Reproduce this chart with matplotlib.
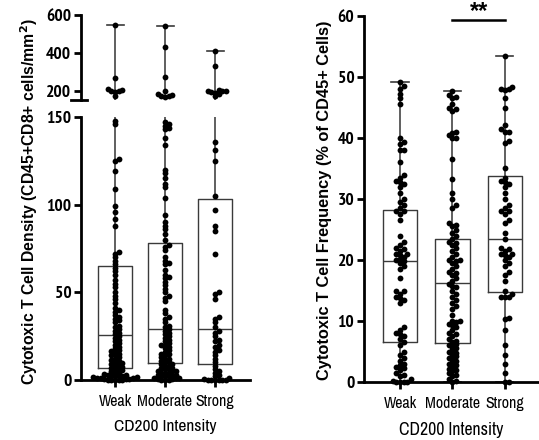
import matplotlib
matplotlib.use("Agg")
import matplotlib.pyplot as plt
import numpy as np
from matplotlib import font_manager

groups = ["Weak", "Moderate", "Strong"]

# CD8 density (cells/mm2), left panel
dens_weak = [545, 270, 212, 205, 200, 198, 195, 172,
             148, 146, 126, 125, 119, 109, 99, 96, 92, 88,
             73, 72, 70, 68, 66, 64, 62, 60, 57, 55, 53, 50, 48, 46, 44, 41, 40, 39,
             37, 36, 35, 34, 33, 31, 30, 29, 28, 27, 26, 25, 24, 23, 22, 21, 20, 19,
             18, 17, 16.5, 16, 15, 14.5, 14, 13, 12, 11.5, 11, 10, 9.5, 9, 8.5, 8,
             7.5, 7, 6.5, 6, 5.5, 5, 4.5, 4, 3.5, 3, 3, 2.5, 2.5, 2, 2, 1.5, 1.5,
             1, 1, 1, 0.5, 0.5, 0.5, 0, 0, 0, 0, 0]
dens_mod = [540, 430, 275, 200, 182, 178, 175, 172, 170,
            147, 146, 145, 144, 143, 138, 134, 120, 118, 115, 112, 110, 104, 94, 90, 88,
            86, 83, 80, 77, 76, 74, 70, 68, 67, 66, 63, 60, 59, 58, 56, 54, 52, 50,
            48, 47, 45, 40, 38, 36, 35, 33, 31, 30, 29, 28, 27, 26, 25, 24, 23, 22,
            21, 20, 20, 19, 18, 17, 16, 15, 15, 14, 13, 12, 12, 11, 10, 10, 9, 9, 8,
            8, 7, 7, 6, 6, 5, 5, 5, 4, 4, 4, 3, 3, 3, 2, 2, 2, 1, 1, 1, 0.5, 0.5,
            0, 0, 0]
dens_strong = [410, 330, 205, 202, 200, 198, 195, 190, 185, 172,
               136, 131, 125, 105, 97, 88, 85, 72, 50, 49, 46, 36, 35, 33, 30, 28,
               27, 25, 23, 22, 20, 19, 17, 16, 14, 12, 10, 8, 6, 5, 4, 3, 2, 1, 0.5,
               0, 0, 0, 0, 0, 0]

# CD8 frequency (% of CD45+), right panel
freq_weak = [49.2, 48.5, 48, 47.2, 46.5, 45.5, 40, 39.3, 39, 38, 38, 36, 34, 33.5,
             33, 32.8, 32.5, 32, 31, 30, 29.5, 29, 28.5, 28, 28, 27.5, 26.5, 24, 23,
             22.5, 22, 21.8, 21.5, 21, 21, 20.8, 20.5, 20.2, 20, 19.8, 19.5, 19, 18.5,
             17, 15, 15, 14.5, 14, 13.8, 13.5, 13, 9, 8.5, 8, 7.8, 7.5, 7, 6.5, 6, 5,
             4.5, 4, 3.5, 3, 2.8, 2.5, 2.3, 2, 1.5, 1.2, 1, 0.5, 0.2, 0, 0, 0, 0]
freq_mod = [47.7, 47, 46.8, 46.5, 45.5, 45, 44.8, 44.5, 41, 40.8, 40.5, 40, 40, 36.5,
            33.3, 31, 30, 29, 28.5, 26, 25.8, 25.5, 25, 24.5, 24, 23.5, 23, 22.8, 22.5,
            22, 21.5, 21, 20.5, 20, 20, 19.8, 19.5, 19, 18.5, 18, 17.8, 17.5, 17, 16.5,
            16, 15.8, 15.5, 15, 14.5, 14, 13.5, 13, 12.5, 12, 11, 10, 10, 9.8, 9.5, 9.3,
            9, 8.5, 8, 7.8, 7.5, 7, 6.8, 6.5, 6.2, 6, 5.8, 5.5, 5.2, 5, 4.8, 4.5, 4.2,
            4, 3.8, 3.5, 3.2, 3, 2.8, 2.5, 2.2, 2, 1.8, 1.5, 1.2, 1, 0.5, 0.2, 0]
freq_strong = [53.4, 48.3, 48, 48, 47.8, 46.5, 45, 42.2, 41.5, 41, 41, 39.5, 39.2, 35,
               33.5, 33, 32.8, 32.5, 32, 31, 30, 29, 28.5, 28, 28, 27.5, 26.5, 26, 24.5,
               23.5, 22, 21.8, 21.5, 21, 21, 20.8, 20.5, 20, 19.5, 19, 18, 17.5, 16.5,
               15, 14.5, 14, 14, 14, 10.5, 10.3, 8.5, 6, 4.5, 3, 1.5, 0, 0]

# box summaries: q1, median, q3, min, max
dens_q1 = [7, 9.6, 9]
dens_med = [25.6, 29, 29]
dens_q3 = [65, 78, 103]
dens_min = [0, 0, 0]
dens_max = [545, 540, 410]

freq_q1 = [6.6, 6.4, 14.8]
freq_med = [19.9, 16.2, 23.4]
freq_q3 = [28.2, 23.5, 33.7]
freq_min = [0, 0, 0]
freq_max = [49.2, 47.7, 53.4]

sig_label = "**"

plt.rcParams["font.family"] = ["Liberation Sans", "DejaVu Sans"]


def find_face(bold):
    # condensed face for the Arial Narrow look of the ticks
    for key in ("narrow", "condensed"):
        for f in font_manager.fontManager.ttflist:
            fn = f.fname.lower()
            if key in fn and "italic" not in fn and "oblique" not in fn \
                    and ("bold" in fn) == bold:
                return f.fname
    return None


reg_file = find_face(False)
bold_file = find_face(True) or reg_file


def fp(size, bold=False):
    f = bold_file if bold else reg_file
    if f:
        return font_manager.FontProperties(fname=f, size=size)
    return font_manager.FontProperties(family="Liberation Sans", size=size,
                                       weight="bold" if bold else "normal")


W, H = 539, 440
fig = plt.figure(figsize=(W / 100, H / 100), dpi=100)


def fit(txt, target_w):
    # scale font so the text spans roughly the width seen in the picture
    w = txt.get_window_extent(fig.canvas.get_renderer()).width
    if w > 0:
        txt.set_fontsize(txt.get_fontsize() * target_w / w)


def px_axes(l, t, r, b):
    return fig.add_axes([l / W, 1 - b / H, (r - l) / W, (b - t) / H])


def make_stats(q1, med, q3, lo, hi):
    return [dict(q1=a, med=m, q3=c, whislo=d, whishi=e, fliers=[])
            for a, m, c, d, e in zip(q1, med, q3, lo, hi)]


def draw_boxes(ax, stats, width):
    ax.bxp(stats, positions=range(3), widths=width, capwidths=width * 0.5,
           showfliers=False,
           boxprops=dict(color="#3a3a3a", linewidth=1.0),
           medianprops=dict(color="#3a3a3a", linewidth=1.0),
           whiskerprops=dict(color="#444444", linewidth=1.2),
           capprops=dict(color="#3a3a3a", linewidth=1.2))


def swarm(ax, xc, vals, d=3.6):
    # simple beeswarm in pixel space
    vals = np.asarray(vals, float)
    pts = ax.transData.transform(np.column_stack([np.full(len(vals), xc), vals]))
    order = np.argsort(vals)
    placed = []
    xs = np.zeros(len(vals))
    for i in order:
        px, py = pts[i]
        k = 0
        while True:
            off = ((k + 1) // 2) * d * (1 if k % 2 else -1) if k else 0.0
            cx = px + off
            if all((cx - qx) ** 2 + (py - qy) ** 2 >= (d * 0.95) ** 2 for qx, qy in placed):
                break
            k += 1
        placed.append((cx, py))
        xs[i] = cx
    back = ax.transData.inverted().transform(np.column_stack([xs, pts[:, 1]]))
    ax.plot(back[:, 0], vals, "o", color="black", ms=4.2, mew=0, clip_on=False, zorder=5)


def style(ax):
    for s in ["top", "right"]:
        ax.spines[s].set_visible(False)
    for s in ["left", "bottom"]:
        ax.spines[s].set_linewidth(2)
    ax.tick_params(width=2, length=5, pad=2)
    ax.tick_params(axis="x", pad=5)


def font_ticks(ax, num_size):
    for lab in ax.get_yticklabels():
        lab.set_fontproperties(fp(num_size, bold=True))
    for lab in ax.get_xticklabels():
        lab.set_fontproperties(fp(12))


# ---- left panel (broken axis) ----
ax_top = px_axes(81, 15, 250, 100)
ax_bot = px_axes(81, 117, 250, 380)
for ax in (ax_top, ax_bot):
    ax.set_xlim(-0.68, 2.7)
ax_top.set_ylim(153, 600)
ax_bot.set_ylim(0, 150)

dens_stats = make_stats(dens_q1, dens_med, dens_q3, dens_min, dens_max)
draw_boxes(ax_top, dens_stats, 0.68)
draw_boxes(ax_bot, dens_stats, 0.68)

for i, vals in enumerate([dens_weak, dens_mod, dens_strong]):
    v = np.asarray(vals, float)
    swarm(ax_top, i, v[v >= 153])
    swarm(ax_bot, i, v[v < 153])

style(ax_top)
style(ax_bot)
ax_top.spines["bottom"].set_visible(False)
ax_top.set_xticks([])
ax_top.set_yticks([200, 400, 600])
ax_bot.set_yticks([0, 50, 100, 150])
ax_bot.set_xticks(range(3))
ax_bot.set_xticklabels(groups)
font_ticks(ax_top, 12)
font_ticks(ax_bot, 12)
ax_top.plot([-10 / 169, 6 / 169], [0, 0], transform=ax_top.transAxes, color="black",
            lw=2, clip_on=False)
xl_left = ax_bot.set_xlabel("CD200 Intensity", fontproperties=fp(12), labelpad=7)

fig.text(29 / W, 1 - 202 / H, "Cytotoxic T Cell Density (CD45+CD8+ cells/mm$^\\mathbf{2}$)",
         rotation=90, ha="center", va="center", fontsize=11.3, fontweight="bold")

# ---- right panel ----
ax_r = px_axes(364, 16, 538, 382)
ax_r.set_xlim(-0.686, 2.63)
ax_r.set_ylim(0, 60)
draw_boxes(ax_r, make_stats(freq_q1, freq_med, freq_q3, freq_min, freq_max), 0.65)
for i, vals in enumerate([freq_weak, freq_mod, freq_strong]):
    swarm(ax_r, i, vals)
style(ax_r)
ax_r.set_yticks(range(0, 61, 10))
ax_r.set_xticks(range(3))
ax_r.set_xticklabels(groups)
font_ticks(ax_r, 12)
xl_right = ax_r.set_xlabel("CD200 Intensity", fontproperties=fp(12), labelpad=8)
fig.text(324 / W, 1 - 200 / H, "Cytotoxic T Cell Frequency (% of CD45+ Cells)",
         rotation=90, ha="center", va="center", fontsize=11.8, fontweight="bold")

ax_r.plot([1, 2], [59.3, 59.3], color="black", lw=1.8, clip_on=False)
ax_r.text(1.5, 59.7, sig_label, ha="center", va="baseline", fontsize=17, fontweight="bold")

# size the condensed texts from their widths in the picture
fig.canvas.draw()
fit(xl_left, 102)
fit(xl_right, 104)
for ax in (ax_bot, ax_r):
    fit(ax.get_xticklabels()[1], 55)
    s = ax.get_xticklabels()[1].get_fontsize()
    for lab in ax.get_xticklabels():
        lab.set_fontsize(s)
fit(ax_top.get_yticklabels()[2], 25)
s = ax_top.get_yticklabels()[2].get_fontsize()
for lab in ax_top.get_yticklabels() + ax_bot.get_yticklabels() + ax_r.get_yticklabels():
    lab.set_fontsize(s)

fig.savefig("out.png", dpi=100)
